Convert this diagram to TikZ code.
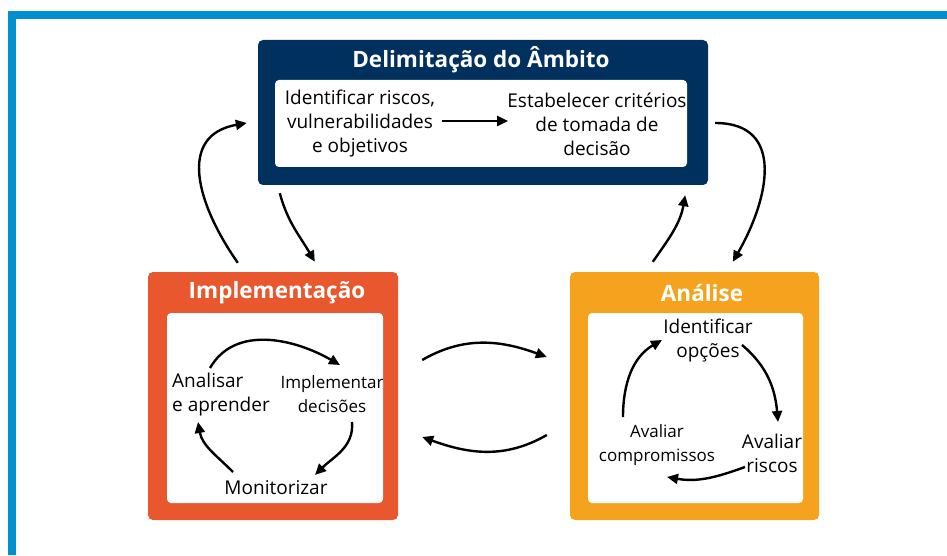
\documentclass[tikz,border=0pt]{standalone}
\usepackage{fontspec}
\setmainfont{Open Sans}
\usetikzlibrary{arrows.meta,calc}
\definecolor{frameblue}{RGB}{0,144,207}
\definecolor{navy}{RGB}{0,48,94}
\definecolor{redorange}{RGB}{232,87,45}
\definecolor{amber}{RGB}{245,163,31}
\begin{document}
\begin{tikzpicture}[x=1pt,y=1pt,
  outerbox/.style={rounded corners=5pt,inner sep=0pt},
  innerbox/.style={fill=white,rounded corners=4pt,inner sep=0pt},
  title/.style={text=white,font=\fontsize{22.5}{24}\selectfont\bfseries},
  txt/.style={align=center,inner sep=0pt,font=\fontsize{19}{24}\selectfont},
  smalltxt/.style={align=center,inner sep=0pt,font=\fontsize{17}{24}\selectfont},
  arr/.style={line width=2.4pt,-{Triangle[length=11pt,width=10pt]}}]
\useasboundingbox (0,0) rectangle (947,555);
% frame
\fill[frameblue] (8,0) rectangle (16,544);
\fill[frameblue] (8,536) rectangle (947,544);
% boxes
\node[outerbox,fill=navy,minimum width=450,minimum height=145] (delim) at (483,442.5) {};
\node[innerbox,minimum width=412,minimum height=87] (delimin) at (481,431.5) {};
\node[outerbox,fill=redorange,minimum width=250,minimum height=248] (impl) at (273,159) {};
\node[innerbox,minimum width=216,minimum height=190] (implin) at (275,147) {};
\node[outerbox,fill=amber,minimum width=249,minimum height=248] (anal) at (694.5,159) {};
\node[innerbox,minimum width=215,minimum height=190] (analin) at (695.5,147) {};
% titles
\node[title] (delimtitle) at (481,495) {Delimitação do Âmbito};
\node[title] (impltitle) at (277,262) {Implementação};
\node[title] (analtitle) at (702,262) {Análise};
% texts
\node[txt] (idrisk) at (360,431) {Identificar riscos,\\vulnerabilidades\\e objetivos};
\node[txt] (crit) at (597,431) {Estabelecer critérios\\de tomada de\\decisão};
\node[txt,align=left,anchor=west] (learn) at (172,160) {Analisar\\e aprender};
\node[smalltxt] (impldec) at (332,161) {Implementar\\decisões};
\node[txt] (monit) at (276,67) {Monitorizar};
\node[txt] (idopt) at (708,214) {Identificar\\opções};
\node[txt] (avrisk) at (772,102) {Avaliar\\riscos};
\node[smalltxt] (avcomp) at (657,110) {Avaliar\\compromissos};
% arrows inside
\draw[arr] ($(delimin.center)+(-39,2.5)$) -- ($(delimin.center)+(27,2.5)$);
\draw[arr] ($(implin.center)+(-65,40)$) to[out=60,in=150] ($(implin.center)+(65,43)$);
\draw[arr] ($(implin.center)+(77,-14)$) to[out=-85,in=45] ($(implin.center)+(40,-67)$);
\draw[arr] ($(implin.center)+(-42,-64)$) to[out=135,in=-80] ($(implin.center)+(-77,-14)$);
\draw[arr] ($(analin.center)+(46.5,63)$) to[out=-40,in=95] ($(analin.center)+(82.5,-14)$);
\draw[arr] ($(analin.center)+(49.5,-59)$) to[out=200,in=-10] ($(analin.center)+(-28.5,-69)$);
\draw[arr] ($(analin.center)+(-72.5,-9)$) to[out=90,in=210] ($(analin.center)+(-33.5,68)$);
% arrows between boxes
\draw[arr] ($(impl.north west)+(90,9)$) to[out=125,in=190,looseness=1.3] ($(delim.west)+(-11,-10.5)$);
\draw[arr] ($(delim.south west)+(22,-8)$) to[out=-75,in=120] ($(impl.north west)+(167,10)$);
\draw[arr] ($(anal.north west)+(83,10)$) to[out=55,in=-100] ($(delim.south east)+(-23,-10)$);
\draw[arr] ($(delim.east)+(7,-10.5)$) to[out=0,in=60,looseness=1.3] ($(anal.north west)+(163,10)$);
\draw[arr] ($(impl.east)+(24,36)$) to[out=30,in=160] ($(anal.west)+(-23,39)$);
\draw[arr] ($(anal.west)+(-23,-39)$) to[out=-150,in=-20] ($(impl.east)+(24,-41)$);
\end{tikzpicture}
\end{document}
